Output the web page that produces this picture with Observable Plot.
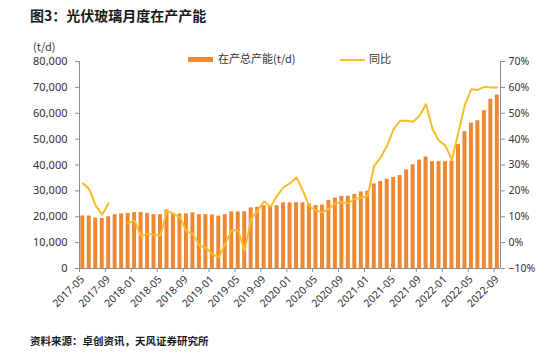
<!DOCTYPE html>
<html><head><meta charset="utf-8">
<script src="https://cdn.jsdelivr.net/npm/d3@7"></script>
<script src="https://cdn.jsdelivr.net/npm/@observablehq/plot@0.6"></script>
<style>
body{margin:0;background:#fff;}
#wrap{position:relative;width:554px;height:359px;font-family:"Noto Sans CJK SC","Noto Sans",sans-serif;color:#333;overflow:hidden;}
.abs{position:absolute;white-space:nowrap;line-height:1;}
#chart{position:absolute;left:0;top:0;}
</style></head>
<body>
<div id="wrap">
  <div id="chart"></div>
  <div class="abs" style="left:30px;top:8px;font-size:14px;font-weight:bold;color:#1a1a1a;">图3：光伏玻璃月度在产产能</div>
  <div class="abs" style="left:33px;top:41px;font-size:11px;">(t/d)</div>
  <div class="abs" style="left:188px;top:57px;width:25px;height:5px;background:#EF8733;"></div>
  <div class="abs" style="left:218px;top:53px;font-size:11px;">在产总产能(t/d)</div>
  <div class="abs" style="left:340px;top:59px;width:25px;height:2px;background:#F8BD27;"></div>
  <div class="abs" style="left:369px;top:53px;font-size:11px;">同比</div>
  <div class="abs" style="left:30px;top:336px;font-size:10.5px;font-weight:bold;color:#1a1a1a;">资料来源：卓创资讯，天风证券研究所</div>
</div>
<script>
const months = [
  "2017-05","2017-06","2017-07","2017-08","2017-09","2017-10","2017-11","2017-12",
  "2018-01","2018-02","2018-03","2018-04","2018-05","2018-06","2018-07","2018-08","2018-09","2018-10","2018-11","2018-12",
  "2019-01","2019-02","2019-03","2019-04","2019-05","2019-06","2019-07","2019-08","2019-09","2019-10","2019-11","2019-12",
  "2020-01","2020-02","2020-03","2020-04","2020-05","2020-06","2020-07","2020-08","2020-09","2020-10","2020-11","2020-12",
  "2021-01","2021-02","2021-03","2021-04","2021-05","2021-06","2021-07","2021-08","2021-09","2021-10","2021-11","2021-12",
  "2022-01","2022-02","2022-03","2022-04","2022-05","2022-06","2022-07","2022-08","2022-09"
];
// 在产总产能 (t/d)
const capacity = [
  20300,20300,19500,19300,20000,20800,21100,21300,
  21600,21600,21300,20800,20800,22600,21300,21100,21100,21500,20800,20800,
  20700,20200,20800,21900,21900,21900,23400,23700,24300,24300,24300,25400,
  25400,25400,25400,25000,24300,24500,26300,27200,27900,27900,28600,29600,
  29900,32700,33600,34500,35200,35900,38100,40100,41900,43100,41300,41300,
  41300,41500,47900,52900,56200,57100,61000,65400,67000
];
// 同比 (%)
const yoy = [
  22.9,20.7,14.3,10.8,15.2,null,null,7.5,
  8.5,2.3,3.4,3.0,2.7,12.4,11.1,9.8,4.4,3.4,-1.2,-2.0,
  -4.4,-5.7,-0.5,4.9,4.6,-3.1,9.1,12.4,15.9,13.9,18.1,21.4,
  22.9,25.2,20.1,13.9,12.4,11.7,13.0,15.2,15.6,15.2,16.9,17.3,
  18.1,29.7,32.9,37.5,43.9,47.1,47.1,46.7,49.0,53.5,43.9,39.4,
  37.5,32.0,42.6,53.2,59.3,59.0,60.2,60.0,60.0
];
const tickLabels = ["2017-05","2017-09","2018-01","2018-05","2018-09","2019-01","2019-05","2019-09","2020-01","2020-05","2020-09","2021-01","2021-05","2021-09","2022-01","2022-05","2022-09"];
const leftTicks = [0,10000,20000,30000,40000,50000,60000,70000,80000];
const rightTicks = [-10,0,10,20,30,40,50,60,70];

const orange = "#EF8733", gold = "#F8BD27", axisGrey = "#8c8c8c";
// right axis (%) mapped onto left scale: -10% -> 0, 70% -> 80000
const pctToLeft = p => (p + 10) * 1000;

const data = months.map((m, i) => ({i, m, cap: capacity[i], yoy: yoy[i]}));
const tickIdx = tickLabels.map(t => months.indexOf(t));

const chart = Plot.plot({
  width: 554, height: 359,
  marginLeft: 79, marginRight: 54, marginTop: 61, marginBottom: 91,
  style: {fontFamily: "'Noto Sans', 'Open Sans', sans-serif", fontSize: "10.5px", color: "#333", background: "transparent"},
  x: {type: "linear", domain: [0, months.length], axis: null},
  y: {domain: [0, 80000], axis: null},
  marks: [
    Plot.rectY(data, {x1: d => d.i, x2: d => d.i + 1, y: "cap", fill: orange, insetLeft: 1.3, insetRight: 1.2}),
    Plot.line(data, {x: d => d.i + 0.5, y: d => d.yoy == null ? null : pctToLeft(d.yoy), stroke: gold, strokeWidth: 2, curve: "linear"}),
    Plot.axisY({anchor: "left", ticks: leftTicks, tickFormat: d3.format(","), tickSize: 4, tickPadding: 8, stroke: axisGrey, fontSize: 11, label: null}),
    Plot.axisY({anchor: "right", ticks: rightTicks.map(pctToLeft), tickFormat: v => { const p = Math.round(v / 1000 - 10); return (p < 0 ? "\u2212" + (-p) : p) + "%"; }, tickSize: 4, tickPadding: 4, stroke: axisGrey, fontSize: 10.5, label: null}),
    Plot.axisX({ticks: tickIdx, tickFormat: i => months[i], tickSize: 4, stroke: axisGrey, label: null, text: null}),
    Plot.axisX({ticks: tickIdx, tickFormat: i => months[i], tickRotate: -45, tickSize: 0, tickPadding: 9, dx: 3, fontSize: 10.5, label: null}),
    Plot.ruleX([0], {stroke: axisGrey}),
    Plot.ruleX([months.length], {stroke: axisGrey}),
    Plot.ruleY([0], {stroke: axisGrey})
  ]
});
document.getElementById("chart").appendChild(chart);
</script>
</body></html>
